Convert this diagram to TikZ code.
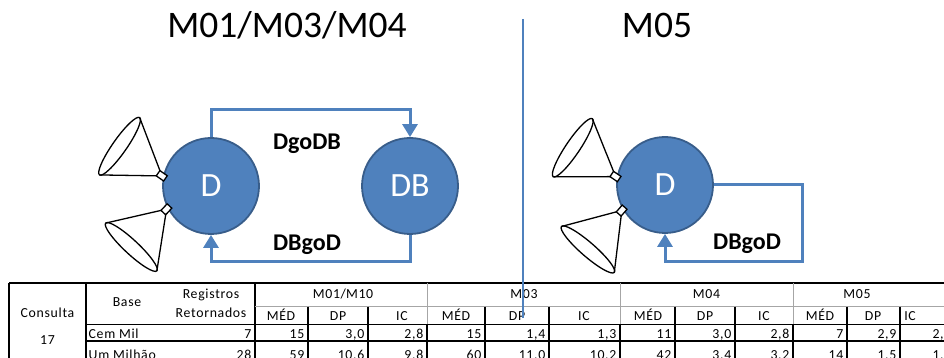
\documentclass[tikz,border=0pt]{standalone}
\usepackage{fontspec}
\setmainfont{Carlito}
\usetikzlibrary{arrows.meta,positioning}
\definecolor{nodeblue}{HTML}{4F81BD}
\definecolor{nodeedge}{HTML}{385D8A}
\definecolor{gridgray}{HTML}{A6A6A6}
\tikzset{
  site/.style={circle,draw=nodeedge,line width=1.8pt,fill=nodeblue,text=white,
    minimum size=96pt,inner sep=0pt,font=\fontsize{34}{34}\selectfont},
  link/.style={-{Triangle[length=13pt,width=15pt]},draw=nodeblue,line width=3pt},
  linklabel/.style={font=\fontsize{24}{24}\selectfont\bfseries,anchor=base,inner sep=0pt},
  heading/.style={font=\fontsize{37.5}{37.5}\selectfont,anchor=base,inner sep=0pt},
  divider/.style={draw=nodeblue,line width=1.5pt},
  funnelline/.style={draw=black,line width=1.3pt},
  cell/.style={font=\fontsize{13.8}{13.8}\selectfont\addfontfeatures{LetterSpace=5},
    inner sep=0pt,anchor=base},
  boldrule/.style={draw=black,line width=1.5pt},
  lightrule/.style={draw=gridgray,line width=0.9pt},
  funnel/.pic={
    \draw[funnelline] (6,3.2) -- (53,35) (6,-3.2) -- (53,-35);
    \draw[funnelline] (53,0) ellipse [x radius=7, y radius=35];
    \draw[funnelline,fill=white] (-3,-3.2) rectangle (6,3.2);
  }
}

\begin{document}
\begin{tikzpicture}[x=1pt,y=1pt]
  \useasboundingbox (0,0) rectangle (944,358);

  % titles
  \node[heading] (ttl-a) at (287,320) {M01/M03/M04};
  \node[heading] (ttl-b) at (657,320) {M05};

  % sites
  \node[site] (d1) at (211,172) {D};
  \node[site] (db) at (410,172) {DB};
  \node[site] (d2) at (665,173) {D};

  % client funnels
  \pic (fa) [rotate=145] at (d1.169) {funnel};
  \pic (fb) [rotate=227] at (d1.207) {funnel};
  \pic (fc) [rotate=146] at (d2.171) {funnel};
  \pic (fd) [rotate=229] at (d2.210) {funnel};

  % links
  \coordinate (up) at (310,248.5);
  \coordinate (down) at (310,96.5);
  \coordinate (turn) at (802,96.5);
  \draw[link] (d1.north) |- (up) -| (db.north);
  \draw[link] (db.south) |- (down) -| (d1.south);
  \draw[link] (d2.east) -| (turn) -| (d2.south);
  \node[linklabel] (go-db) at (307,208) {DgoDB};
  \node[linklabel] (go-d) at (307,107) {DBgoD};
  \node[linklabel] (go-d2) at (747,108) {DBgoD};

  % table rules
  \draw[boldrule,line width=2pt] (9,75.3) -- (944,75.3);
  \draw[boldrule] (9,75.3) -- (9,-2) (86,75.3) -- (86,-2) (255,75.3) -- (255,-2);
  \draw[lightrule] (255,51.3) -- (944,51.3);
  \draw[boldrule] (86,33.7) -- (944,33.7) (86,16.8) -- (944,16.8);
  \foreach \x in {427,620,793}{
    \draw[lightrule] (\x,75.3) -- (\x,33.7);
    \draw[boldrule] (\x,33.7) -- (\x,-2);
  }
  \foreach \x in {308,368,485,549,675,735,847,900}
    \draw[boldrule] (\x,51.3) -- (\x,-2);

  % table header
  \node[cell] (h-con) at (47.5,40) {Consulta};
  \node[cell] (h-num) at (47.5,13.3) {17};
  \node[cell] (h-base) at (127,51.7) {Base};
  \node[cell] (h-reg) at (211,59.3) {Registros};
  \node[cell] (h-ret) at (211,40.7) {Retornados};
  \foreach \x/\t [count=\k] in {343/M01\slash M10,524/M03,706.5/M04,857/M05}
    \node[cell] (grp-\k) at (\x,59.5) {\t};
  \foreach \x/\t [count=\k] in {281/MÉD,338/DP,402/IC,456/MÉD,517/DP,584/IC,
      648/MÉD,705/DP,764/IC,820/MÉD,873/DP,910/IC}
    \node[cell] (sub-\k) at (\x,37.3) {\t};

  % table rows
  \node[cell,anchor=base west] (r-cem) at (88.5,19) {Cem Mil};
  \node[cell,anchor=base west] (r-um) at (88.5,-1.5) {Um Milhão};
  \foreach \x/\a/\b [count=\k] in {251.5/7/28,304.5/15/59,364.5/{3,0}/{10,6},
      423.5/{2,8}/{9,8},481.5/15/60,545.5/{1,4}/{11,0},616.5/{1,3}/{10,2},
      671.5/11/42,731.5/{3,0}/{3,4},789.5/{2,8}/{3,2},843.5/7/14,
      896.5/{2,9}/{1,5},951.5/{2,7}/{1,4}}{
    \node[cell,anchor=base east] (cem-\k) at (\x,19) {\a};
    \node[cell,anchor=base east] (um-\k) at (\x,-1.5) {\b};
  }

  % split between the two setups
  \coordinate (sep-top) at (523,339);
  \coordinate (sep-bot) at (523,40);
  \draw[divider] (sep-top) -- (sep-bot);
\end{tikzpicture}
\end{document}
